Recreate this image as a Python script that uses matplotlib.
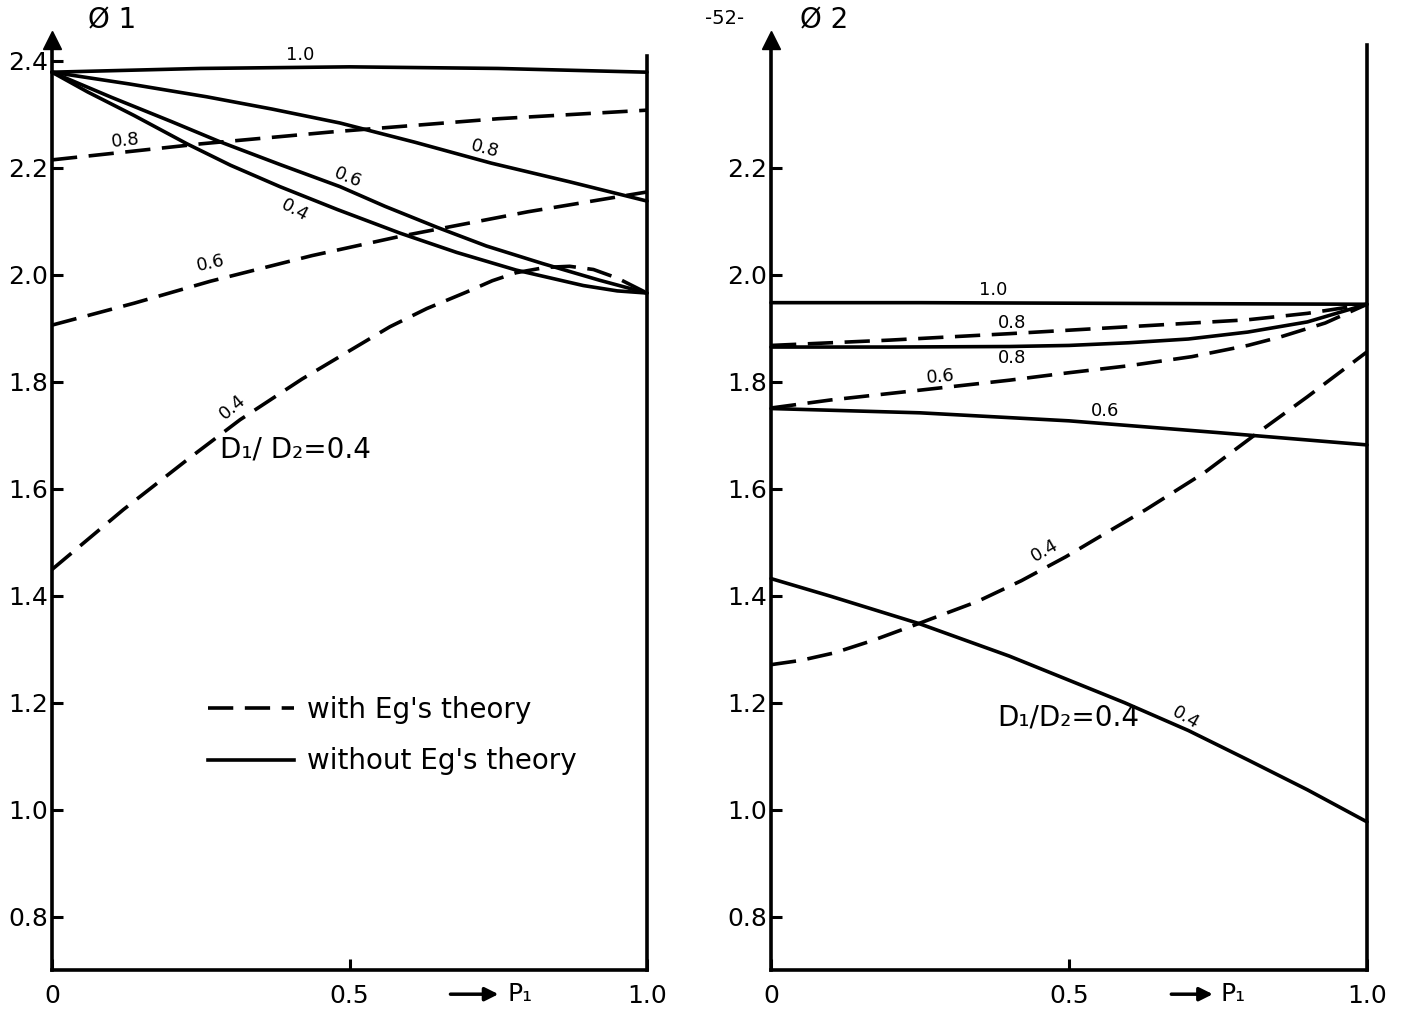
import matplotlib
matplotlib.use("Agg")
import matplotlib.pyplot as plt
from matplotlib.lines import Line2D

plt.rcParams['font.family'] = ['DejaVu Sans']

# ---------------- data: left panel (phi1 vs P1) ----------------
L_s10_x = [0, 0.25, 0.5, 0.75, 1.0]
L_s10_y = [2.379, 2.386, 2.389, 2.386, 2.379]
L_s08_x = [0, 0.13, 0.26, 0.37, 0.484, 0.61, 0.738, 0.87, 1.0]
L_s08_y = [2.379, 2.357, 2.333, 2.310, 2.284, 2.248, 2.209, 2.174, 2.138]
L_s06_x = [0, 0.1, 0.2, 0.282, 0.384, 0.484, 0.56, 0.647, 0.73, 0.825, 0.92, 1.0]
L_s06_y = [2.379, 2.332, 2.287, 2.249, 2.206, 2.165, 2.128, 2.089, 2.054, 2.021, 1.99, 1.966]
L_s04_x = [0, 0.06, 0.138, 0.227, 0.3, 0.383, 0.48, 0.585, 0.68, 0.78, 0.893, 0.95, 1.0]
L_s04_y = [2.379, 2.342, 2.298, 2.245, 2.205, 2.165, 2.122, 2.078, 2.042, 2.009, 1.980, 1.970, 1.966]
L_d08_x = [0, 0.25, 0.467, 0.75, 1.0]
L_d08_y = [2.215, 2.245, 2.267, 2.292, 2.308]
L_d06_x = [0, 0.138, 0.266, 0.437, 0.585, 0.8, 1.0]
L_d06_y = [1.906, 1.947, 1.988, 2.036, 2.072, 2.118, 2.155]
L_d04_x = [0, 0.12, 0.227, 0.316, 0.42, 0.5, 0.568, 0.63, 0.697, 0.74, 0.78, 0.83, 0.87, 0.91, 0.95, 1.0]
L_d04_y = [1.449, 1.561, 1.654, 1.729, 1.805, 1.858, 1.903, 1.937, 1.968, 1.989, 2.004, 2.014, 2.016, 2.010, 1.994, 1.966]

# ---------------- data: right panel (phi2 vs P1) ----------------
R_s10_x = [0, 0.25, 0.5, 0.75, 1.0]
R_s10_y = [1.948, 1.948, 1.947, 1.946, 1.945]
R_d08_x = [0, 0.2, 0.4, 0.6, 0.8, 0.9, 1.0]
R_d08_y = [1.868, 1.878, 1.890, 1.903, 1.916, 1.928, 1.945]
R_s08_x = [0, 0.2, 0.4, 0.5, 0.6, 0.7, 0.8, 0.9, 1.0]
R_s08_y = [1.865, 1.865, 1.866, 1.868, 1.873, 1.880, 1.893, 1.912, 1.945]
R_d06_x = [0, 0.1, 0.255, 0.4, 0.5, 0.6, 0.706, 0.8, 0.855, 0.93, 1.0]
R_d06_y = [1.751, 1.766, 1.785, 1.803, 1.817, 1.830, 1.847, 1.868, 1.884, 1.91, 1.945]
R_s06_x = [0, 0.25, 0.5, 0.75, 1.0]
R_s06_y = [1.75, 1.742, 1.727, 1.705, 1.682]
R_d04_x = [0, 0.05, 0.106, 0.17, 0.248, 0.346, 0.42, 0.495, 0.56, 0.629, 0.727, 0.811, 0.9, 1.0]
R_d04_y = [1.271, 1.279, 1.293, 1.316, 1.348, 1.389, 1.428, 1.473, 1.516, 1.561, 1.630, 1.700, 1.772, 1.856]
R_s04_x = [0, 0.1, 0.248, 0.4, 0.593, 0.7, 0.8, 0.9, 1.0]
R_s04_y = [1.432, 1.399, 1.348, 1.287, 1.200, 1.148, 1.093, 1.037, 0.977]

y_ticks = [0.8, 1.0, 1.2, 1.4, 1.6, 1.8, 2.0, 2.2, 2.4]
y_ticklabels = ["0.8", "1.0", "1.2", "1.4", "1.6", "1.8", "2.0", "2.2", "2.4"]
y_ticks_r = [0.8, 1.0, 1.2, 1.4, 1.6, 1.8, 2.0, 2.2]
y_ticklabels_r = ["0.8", "1.0", "1.2", "1.4", "1.6", "1.8", "2.0", "2.2"]
x_ticks = [0, 0.5, 1.0]
x_ticklabels = ["0", "0.5", "1.0"]

LW = 2.6
DASH = (7, 3.2)

fig = plt.figure(figsize=(14.01, 10.11), dpi=100)
axL = fig.add_axes([52/1401, 41/1011, 595/1401, 0.9203])
axR = fig.add_axes([771/1401, 41/1011, 596/1401, 0.9203])


def style(ax, yt, ytl, right_top):
    ax.set_xlim(0, 1.0)
    ax.set_ylim(0.70, 2.44)
    ax.spines['top'].set_visible(False)
    for s in ['left', 'bottom', 'right']:
        ax.spines[s].set_linewidth(LW)
    ax.spines['right'].set_bounds(0.70, right_top)
    ax.set_yticks(yt)
    ax.set_yticklabels(ytl)
    ax.set_xticks(x_ticks)
    ax.set_xticklabels(x_ticklabels)
    ax.tick_params(direction='in', length=8, width=2.2, labelsize=18, pad=3)
    ax.tick_params(axis='x', pad=10)
    # arrow head on the y axis
    ax.plot([0], [2.44], marker='^', markersize=13, color='k', clip_on=False)


def solid(ax, x, y):
    ax.plot(x, y, color='k', lw=LW, solid_capstyle='round',
            solid_joinstyle='round', clip_on=False)


def dashed(ax, x, y):
    ax.plot(x, y, color='k', lw=LW, dashes=DASH, clip_on=False)


style(axL, y_ticks, y_ticklabels, 2.41)
style(axR, y_ticks_r, y_ticklabels_r, 2.43)

# left curves
solid(axL, L_s10_x, L_s10_y)
solid(axL, L_s08_x, L_s08_y)
solid(axL, L_s06_x, L_s06_y)
solid(axL, L_s04_x, L_s04_y)
dashed(axL, L_d08_x, L_d08_y)
dashed(axL, L_d06_x, L_d06_y)
dashed(axL, L_d04_x, L_d04_y)

# right curves
solid(axR, R_s10_x, R_s10_y)
solid(axR, R_s08_x, R_s08_y)
solid(axR, R_s06_x, R_s06_y)
solid(axR, R_s04_x, R_s04_y)
dashed(axR, R_d08_x, R_d08_y)
dashed(axR, R_d06_x, R_d06_y)
dashed(axR, R_d04_x, R_d04_y)

lab = dict(fontsize=13, ha='center', va='center', color='k')
# left labels
axL.text(0.417, 2.411, "1.0", **lab)
axL.text(0.123, 2.252, "0.8", rotation=6, **lab)
axL.text(0.728, 2.236, "0.8", rotation=-15, **lab)
axL.text(0.497, 2.181, "0.6", rotation=-22, **lab)
axL.text(0.408, 2.121, "0.4", rotation=-28, **lab)
axL.text(0.266, 2.021, "0.6", rotation=12, **lab)
axL.text(0.303, 1.753, "0.4", rotation=40, **lab)
axL.text(0.282, 1.673, "D₁/ D₂=0.4", fontsize=20, ha='left', va='center')

# right labels
axR.text(0.372, 1.972, "1.0", **lab)
axR.text(0.404, 1.910, "0.8", **lab)
axR.text(0.404, 1.845, "0.8", **lab)
axR.text(0.284, 1.809, "0.6", rotation=5, **lab)
axR.text(0.560, 1.746, "0.6", **lab)
axR.text(0.46, 1.485, "0.4", rotation=30, **lab)
axR.text(0.695, 1.172, "0.4", rotation=-30, **lab)
axR.text(0.379, 1.172, "D₁/D₂=0.4", fontsize=20, ha='left', va='center')

# legend
handles = [Line2D([], [], color='k', lw=LW, dashes=DASH),
           Line2D([], [], color='k', lw=LW)]
axL.legend(handles, ["with Eg's theory", "without Eg's theory"],
           loc='upper left', bbox_to_anchor=(0.262, 0.2946), frameon=False,
           fontsize=20, handlelength=3.1, handletextpad=0.45,
           labelspacing=0.84, borderaxespad=0, borderpad=0)

# x labels with arrows
for ax, x0, x1, xt in [(axL, 0.665, 0.755, 0.765), (axR, 0.667, 0.746, 0.755)]:
    ax.annotate('', xy=(x1, -0.026), xytext=(x0, -0.026), xycoords='axes fraction',
                arrowprops=dict(arrowstyle='-|>', lw=2.5, color='k', mutation_scale=20))
    ax.text(xt, -0.026, "P₁", transform=ax.transAxes, fontsize=18,
            ha='left', va='center')

# top annotations
fig.text(88/1401, 1 - 20/1011, "Ø 1", fontsize=20, ha='left', va='center')
fig.text(800/1401, 1 - 20/1011, "Ø 2", fontsize=20, ha='left', va='center')
fig.text(725/1401, 1 - 18/1011, "-52-", fontsize=14, ha='center', va='center')

fig.savefig("out.png", dpi=100)
